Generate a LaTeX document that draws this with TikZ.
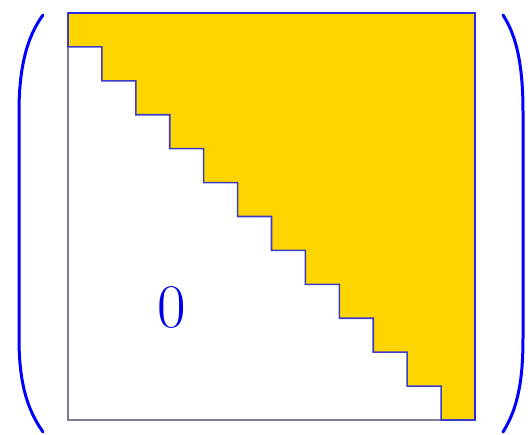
\documentclass[tikz,border=0pt]{standalone}
\begin{document}
\begin{tikzpicture}[x=1pt,y=-1pt,
  paren/.style={draw={rgb,255:red,0;green,0;blue,255},line width=3pt,line cap=round},
  frameedge/.style={draw={rgb,255:red,125;green,125;blue,150},line width=2pt},
  upper/.style={fill={rgb,255:red,255;green,213;blue,0},draw={rgb,255:red,60;green,60;blue,200},line width=1.6pt,line join=miter},
  lbl/.style={text={rgb,255:red,0;green,0;blue,230},font=\fontsize{62}{62}\selectfont,inner sep=0pt}]
\useasboundingbox (0,0) rectangle (528,435);
\def\sx{68}\def\sy{13}\def\cs{33.9167}
% left and bottom edges of the matrix
\coordinate (tl) at (68,13);
\coordinate (bl) at (68,420);
\coordinate (br) at (475,420);
\draw[frameedge] (tl) -- (bl) -- (br);
% upper triangular staircase
\draw[upper] (68,13) -- (475,13) -- (475,420)
  \foreach \k in {11,10,...,1} {
    -- ({\sx+\k*\cs},{\sy+(\k+1)*\cs}) -- ({\sx+\k*\cs},{\sy+\k*\cs})
  } -- (68,{\sy+\cs}) -- cycle;
\draw[draw={rgb,255:red,40;green,40;blue,230},line width=1.6pt] (68,13) -- (475,13) -- (475,420);
% zero label
\node[lbl] (zero) at (172,308) {0};
% parentheses
\draw[paren] (43,15) .. controls (26,38) and (19,70) .. (19,112) -- (19,338) .. controls (19,380) and (26,408) .. (43,432);
\draw[paren] (503,15) .. controls (518,38) and (523,70) .. (523,112) -- (523,338) .. controls (523,380) and (518,408) .. (503,432);
\end{tikzpicture}
\end{document}
